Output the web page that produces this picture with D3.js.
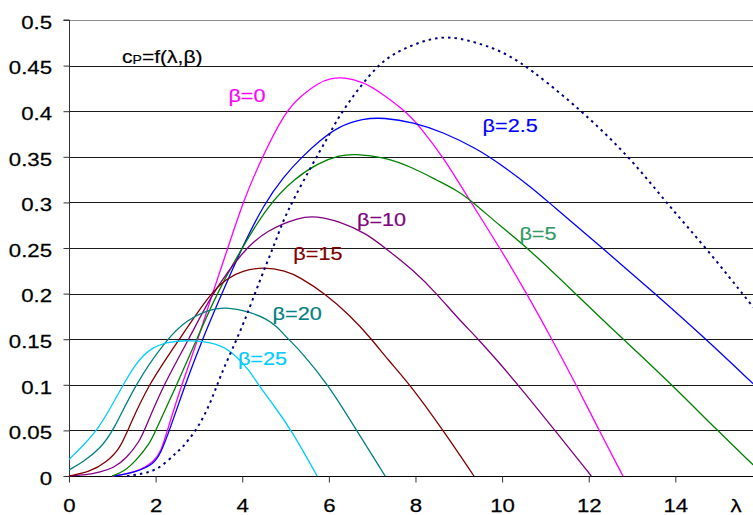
<!DOCTYPE html>
<html>
<head>
<meta charset="utf-8">
<script src="https://cdn.jsdelivr.net/npm/d3@7"></script>
<style>
  html, body { margin: 0; padding: 0; background: #fff; }
  svg { display: block; }
  text { font-family: "Liberation Sans", Arial, sans-serif; }
</style>
</head>
<body>
<svg id="chart" width="753" height="515"></svg>
<script>
// ---- Data ----
const yTicks = [0, 0.05, 0.1, 0.15, 0.2, 0.25, 0.3, 0.35, 0.4, 0.45, 0.5];
const yTickLabels = ["0", "0.05", "0.1", "0.15", "0.2", "0.25", "0.3", "0.35", "0.4", "0.45", "0.5"];
const xTicks = [0, 2, 4, 6, 8, 10, 12, 14];
const xTickLabels = ["0", "2", "4", "6", "8", "10", "12", "14"];

const seriesNames = ["β=0", "β=2.5", "β=5", "β=10", "β=15", "β=20", "β=25", "envelope"];

const lamB0 = [1.0, 1.3, 1.64, 1.95, 2.12, 2.27, 2.6, 2.98, 3.31, 3.67, 4.01, 4.46, 5.0, 5.34, 5.75, 6.03, 6.35, 6.8, 7.18, 7.8, 8.1, 8.64, 9.28, 9.95, 10.57, 11.15, 11.71, 12.24, 12.79];
const cpB0  = [0, 0.002, 0.0062, 0.0154, 0.026, 0.05, 0.1, 0.15, 0.2, 0.25, 0.3, 0.35, 0.4, 0.416, 0.431, 0.436, 0.4375, 0.432, 0.421, 0.399, 0.383, 0.35, 0.3, 0.25, 0.2, 0.15, 0.1, 0.05, 0];

const lamB25 = [1.05, 1.56, 1.95, 2.12, 2.32, 2.68, 3.08, 3.53, 3.99, 4.5, 4.95, 5.38, 5.8, 6.21, 6.79, 7.26, 7.95, 8.64, 9.41, 9.93, 10.72, 11.1, 12.34, 13.53, 14.71, 15.8];
const cpB25  = [0, 0.0044, 0.0128, 0.025, 0.05, 0.1, 0.15, 0.2, 0.25, 0.298, 0.328, 0.35, 0.368, 0.383, 0.392, 0.393, 0.388, 0.377, 0.359, 0.343, 0.315, 0.299, 0.249, 0.2, 0.15, 0.101];

const lamB5 = [0.99, 1.25, 1.52, 1.87, 2.0, 2.49, 2.95, 3.41, 3.99, 4.6, 5.2, 5.75, 6.26, 6.6, 7.26, 7.95, 8.49, 8.95, 9.34, 9.93, 10.62, 11.69, 12.57, 12.8, 13.92, 14.97, 15.8];
const cpB5  = [0, 0.0044, 0.0154, 0.0355, 0.05, 0.1, 0.15, 0.2, 0.25, 0.297, 0.326, 0.343, 0.352, 0.353, 0.35, 0.338, 0.3244, 0.3135, 0.3, 0.275, 0.249, 0.2, 0.16, 0.15, 0.1, 0.05, 0.012];

const lamB10 = [0, 0.4, 0.72, 1.02, 1.33, 1.64, 1.74, 2.18, 2.77, 3.3, 4.03, 4.57, 5.33, 5.7, 6.26, 6.87, 7.34, 7.95, 8.49, 8.95, 9.45, 9.88, 10.37, 11.22, 12.06];
const cpB10  = [0, 0.001, 0.0044, 0.0084, 0.0194, 0.039, 0.05, 0.1, 0.15, 0.2, 0.2477, 0.2696, 0.284, 0.285, 0.279, 0.266, 0.2485, 0.2257, 0.2, 0.1745, 0.15, 0.127, 0.1, 0.05, 0];

const lamB15 = [0, 0.48, 0.87, 1.18, 1.4, 1.83, 2.55, 3.26, 3.64, 4.0, 4.49, 5.0, 5.33, 5.91, 6.49, 6.99, 7.37, 7.88, 8.64, 9.35];
const cpB15  = [0, 0.0044, 0.0154, 0.03, 0.055, 0.1, 0.15, 0.2, 0.2166, 0.225, 0.2293, 0.225, 0.218, 0.2, 0.176, 0.15, 0.127, 0.1, 0.05, 0];

const lamB20 = [0, 0.33, 0.72, 1.03, 1.52, 2.25, 2.72, 3.2, 3.6, 4.18, 4.57, 4.8, 5.06, 5.33, 5.99, 6.64, 7.3];
const cpB20  = [0.0066, 0.0154, 0.03, 0.05, 0.1, 0.15, 0.171, 0.182, 0.1855, 0.18, 0.172, 0.164, 0.15, 0.138, 0.1, 0.05, 0];

const lamB25b = [0, 0.33, 0.65, 1.0, 1.25, 1.55, 1.87, 2.3, 2.8, 3.41, 3.8, 4.18, 4.37, 4.75, 5.14, 5.73];
const cpB25b  = [0.018, 0.0337, 0.05, 0.078, 0.1, 0.124, 0.14, 0.1475, 0.149, 0.146, 0.135, 0.115, 0.1, 0.076, 0.05, 0];

const lamEnv = [1.34, 1.72, 1.99, 2.26, 2.49, 2.64, 3.02, 3.29, 3.49, 3.76, 4.04, 4.41, 4.72, 4.95, 5.18, 5.61, 5.96, 6.18, 6.49, 6.79, 7.18, 7.57, 8.03, 8.49, 8.95, 9.41, 9.88, 10.42, 11.0, 11.87, 12.96, 13.8, 14.73, 15.8];
const cpEnv  = [0, 0.0026, 0.0062, 0.0154, 0.0263, 0.032, 0.0556, 0.083, 0.109, 0.138, 0.168, 0.215, 0.251, 0.2806, 0.303, 0.341, 0.37, 0.39, 0.412, 0.431, 0.4525, 0.465, 0.4745, 0.481, 0.481, 0.475, 0.468, 0.454, 0.433, 0.399, 0.349, 0.299, 0.249, 0.185];

// Series labels (text, λ position, cp position)
const labelTexts = ["β=0", "β=2.5", "β=5", "β=10", "β=15", "β=20", "β=25"];
const labelLam   = [3.68, 9.55, 10.4, 6.65, 5.18, 4.7, 3.9];
const labelCp    = [0.41, 0.377, 0.259, 0.274, 0.237, 0.171, 0.122];

// ---- Drawing ----
const W = 753, H = 515;
const svg = d3.select("#chart");
const x = d3.scaleLinear().domain([0, 15.8]).range([69, 753.3]);
const y = d3.scaleLinear().domain([0, 0.5]).range([476, 20]);
const SX = 1.17; // horizontal stretch of the reference's text

// gridlines
svg.append("g").selectAll("line").data(yTicks.filter(v => v > 0)).join("line")
  .attr("x1", 69).attr("x2", W)
  .attr("y1", d => Math.round(y(d)) + 0.5).attr("y2", d => Math.round(y(d)) + 0.5)
  .attr("stroke", d => d === 0.5 ? "#8c8c8c" : "#1a1a1a").attr("stroke-width", 1);

// y axis
const yAxis = d3.axisLeft(y).tickValues(yTicks).tickSize(6).tickFormat("");
const gy = svg.append("g").attr("transform", "translate(69.5,0)").call(yAxis);
gy.selectAll("path,line").attr("stroke", "#333");
gy.select(".domain").attr("d", `M-6,${y(0.5)}H0V${y(0)}`);

// x axis
const xAxis = d3.axisBottom(x).tickValues(xTicks).tickSize(6).tickFormat("");
const gx = svg.append("g").attr("transform", `translate(0,${Math.round(y(0)) + 0.5})`).call(xAxis);
gx.selectAll("line").attr("stroke", "#333");
gx.select(".domain").attr("d", `M69,0H${W}`).attr("stroke", "#000");

// tick labels
const ylab = svg.append("g").selectAll("g").data(yTicks).join("g")
  .attr("transform", d => `translate(52,${y(d) + 8.8}) scale(${SX},1)`);
ylab.append("text").attr("text-anchor", "end").attr("font-size", 19).attr("fill", "#000")
  .attr("stroke", "#000").attr("stroke-width", 0.25)
  .text((d, i) => yTickLabels[i]);

const xlab = svg.append("g").selectAll("g").data(xTicks).join("g")
  .attr("transform", d => `translate(${x(d) + 0.5},512) scale(${SX},1)`);
xlab.append("text").attr("text-anchor", "middle").attr("font-size", 19).attr("fill", "#000")
  .attr("stroke", "#000").attr("stroke-width", 0.25)
  .text((d, i) => xTickLabels[i]);

svg.append("g").attr("transform", `translate(736,511.5) scale(${SX},1)`)
  .append("text").attr("text-anchor", "middle").attr("font-size", 19)
  .attr("stroke", "#000").attr("stroke-width", 0.25).text("λ");

// curves
const seriesLam = [lamB0, lamB25, lamB5, lamB10, lamB15, lamB20, lamB25b, lamEnv];
const seriesCp  = [cpB0, cpB25, cpB5, cpB10, cpB15, cpB20, cpB25b, cpEnv];
const lineColors = ["#ff00ff", "#0000ff", "#008000", "#800080", "#800000", "#008080", "#00ccff", "#000080"];
const labelColors = ["#ff00ff", "#0000ff", "#339966", "#800080", "#800000", "#008080", "#00ccff"];

svg.append("clipPath").attr("id", "plotclip").append("rect")
  .attr("x", 69).attr("y", 0).attr("width", W - 69).attr("height", 477);

const line = d3.line().x(d => x(d[0])).y(d => y(d[1])).curve(d3.curveBasis);
const gl = svg.append("g").attr("clip-path", "url(#plotclip)");
seriesNames.forEach((name, i) => {
  const pts = seriesLam[i].map((l, j) => [l, seriesCp[i][j]]);
  const p = gl.append("path").datum(pts).attr("d", line)
    .attr("fill", "none").attr("stroke", lineColors[i]);
  if (name === "envelope") {
    p.attr("stroke-width", 2).attr("stroke-dasharray", "2.5,4");
  } else {
    p.attr("stroke-width", 1.3);
  }
});

// series labels
labelTexts.forEach((t, i) => {
  svg.append("g").attr("transform", `translate(${x(labelLam[i])},${y(labelCp[i])}) scale(${SX},1)`)
    .append("text").attr("font-size", 18.5).attr("fill", labelColors[i])
    .attr("stroke", labelColors[i]).attr("stroke-width", 0.2).text(t);
});

// formula label c_P = f(λ,β)
const fg = svg.append("g").attr("transform", `translate(122,63) scale(${SX},1)`);
const ft = fg.append("text").attr("font-size", 18).attr("fill", "#000")
  .attr("stroke", "#000").attr("stroke-width", 0.2);
ft.append("tspan").text("c");
ft.append("tspan").attr("font-size", 12).attr("dy", 1).text("P");
ft.append("tspan").attr("dy", -1).text("=f(λ,β)");
</script>
</body>
</html>
